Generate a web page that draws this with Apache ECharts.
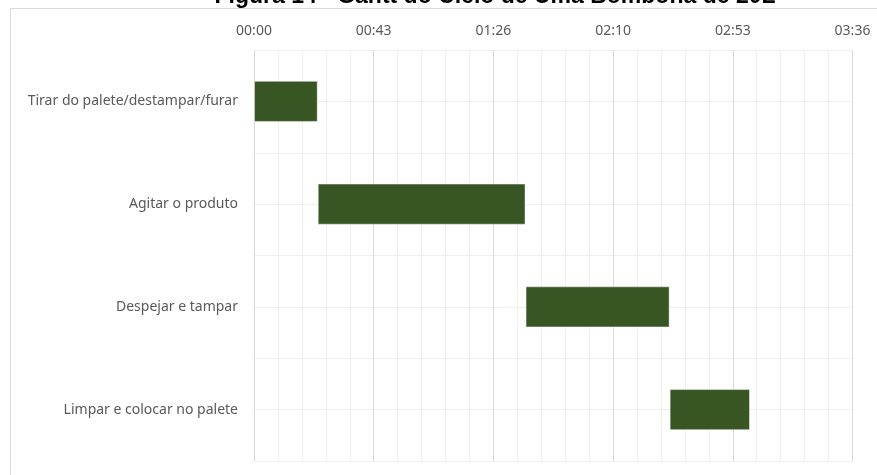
<!DOCTYPE html>
<html>
<head>
<meta charset="utf-8">
<script src="https://cdn.jsdelivr.net/npm/echarts@6/dist/echarts.min.js"></script>
<style>html,body{margin:0;padding:0;background:#fff;}#c{width:877px;height:475px;}</style>
</head>
<body>
<div id="c"></div>
<script>
const titleText = 'Figura 14 - Gantt do Ciclo de Uma Bombona de 20L';
const categories = ['Tirar do palete/destampar/furar', 'Agitar o produto', 'Despejar e tampar', 'Limpar e colocar no palete'];
// start time (seconds) and duration (seconds)
const startSeconds = [0, 23, 98, 150];
const durationSeconds = [23, 75, 52, 29];
const tickLabels = ['00:00', '00:43', '01:26', '02:10', '02:53', '03:36'];
const tickStep = 43.2; // seconds (0.03 day)

const chart = echarts.init(document.getElementById('c'), null, {renderer: 'canvas'});
const labelFont = '"Noto Sans", sans-serif';
chart.setOption({
  animation: false,
  backgroundColor: '#fff',
  graphic: [
    {type: 'rect', shape: {x: 10.5, y: 8.5, width: 900, height: 500}, style: {fill: 'none', stroke: '#d9d9d9', lineWidth: 1}, z: -10},
    {type: 'text', x: 495, y: -3.5, style: {text: titleText, fontFamily: '"Liberation Sans", Arial, sans-serif', fontWeight: 'bold', fontSize: 23, fill: '#000', align: 'center', verticalAlign: 'middle'}}
  ],
  grid: {left: 254, right: 24.5, top: 50, bottom: 14, containLabel: false},
  xAxis: {
    type: 'value', position: 'top', min: 0, max: tickStep * (tickLabels.length - 1), interval: tickStep,
    axisLine: {show: false}, axisTick: {show: false},
    axisLabel: {margin: 12, color: '#595959', fontFamily: labelFont, fontSize: 14,
      formatter: v => tickLabels[Math.round(v / tickStep)] || ''},
    splitLine: {show: true, lineStyle: {color: '#d9d9d9', width: 1}},
    minorTick: {show: false, splitNumber: 5},
    minorSplitLine: {show: true, lineStyle: {color: '#efefef', width: 1}}
  },
  yAxis: [
    {
      type: 'category', data: categories, inverse: true,
      axisLine: {show: false}, axisTick: {show: false},
      axisLabel: {margin: 16, color: '#595959', fontFamily: labelFont, fontSize: 14},
      splitLine: {show: false}
    },
    {
      type: 'value', min: 0, max: 8, interval: 1, position: 'right',
      axisLine: {show: false}, axisTick: {show: false}, axisLabel: {show: false},
      splitLine: {show: true, lineStyle: {color: '#efefef', width: 1}}
    }
  ],
  series: [
    {type: 'bar', stack: 'g', data: startSeconds, itemStyle: {color: 'transparent'}, barWidth: '40%', silent: true, z: 2},
    {type: 'bar', stack: 'g', data: durationSeconds, barWidth: '40%',
     itemStyle: {color: '#375623', borderColor: 'rgba(255,255,255,0.45)', borderWidth: 1}, z: 3}
  ]
});
</script>
</body>
</html>
